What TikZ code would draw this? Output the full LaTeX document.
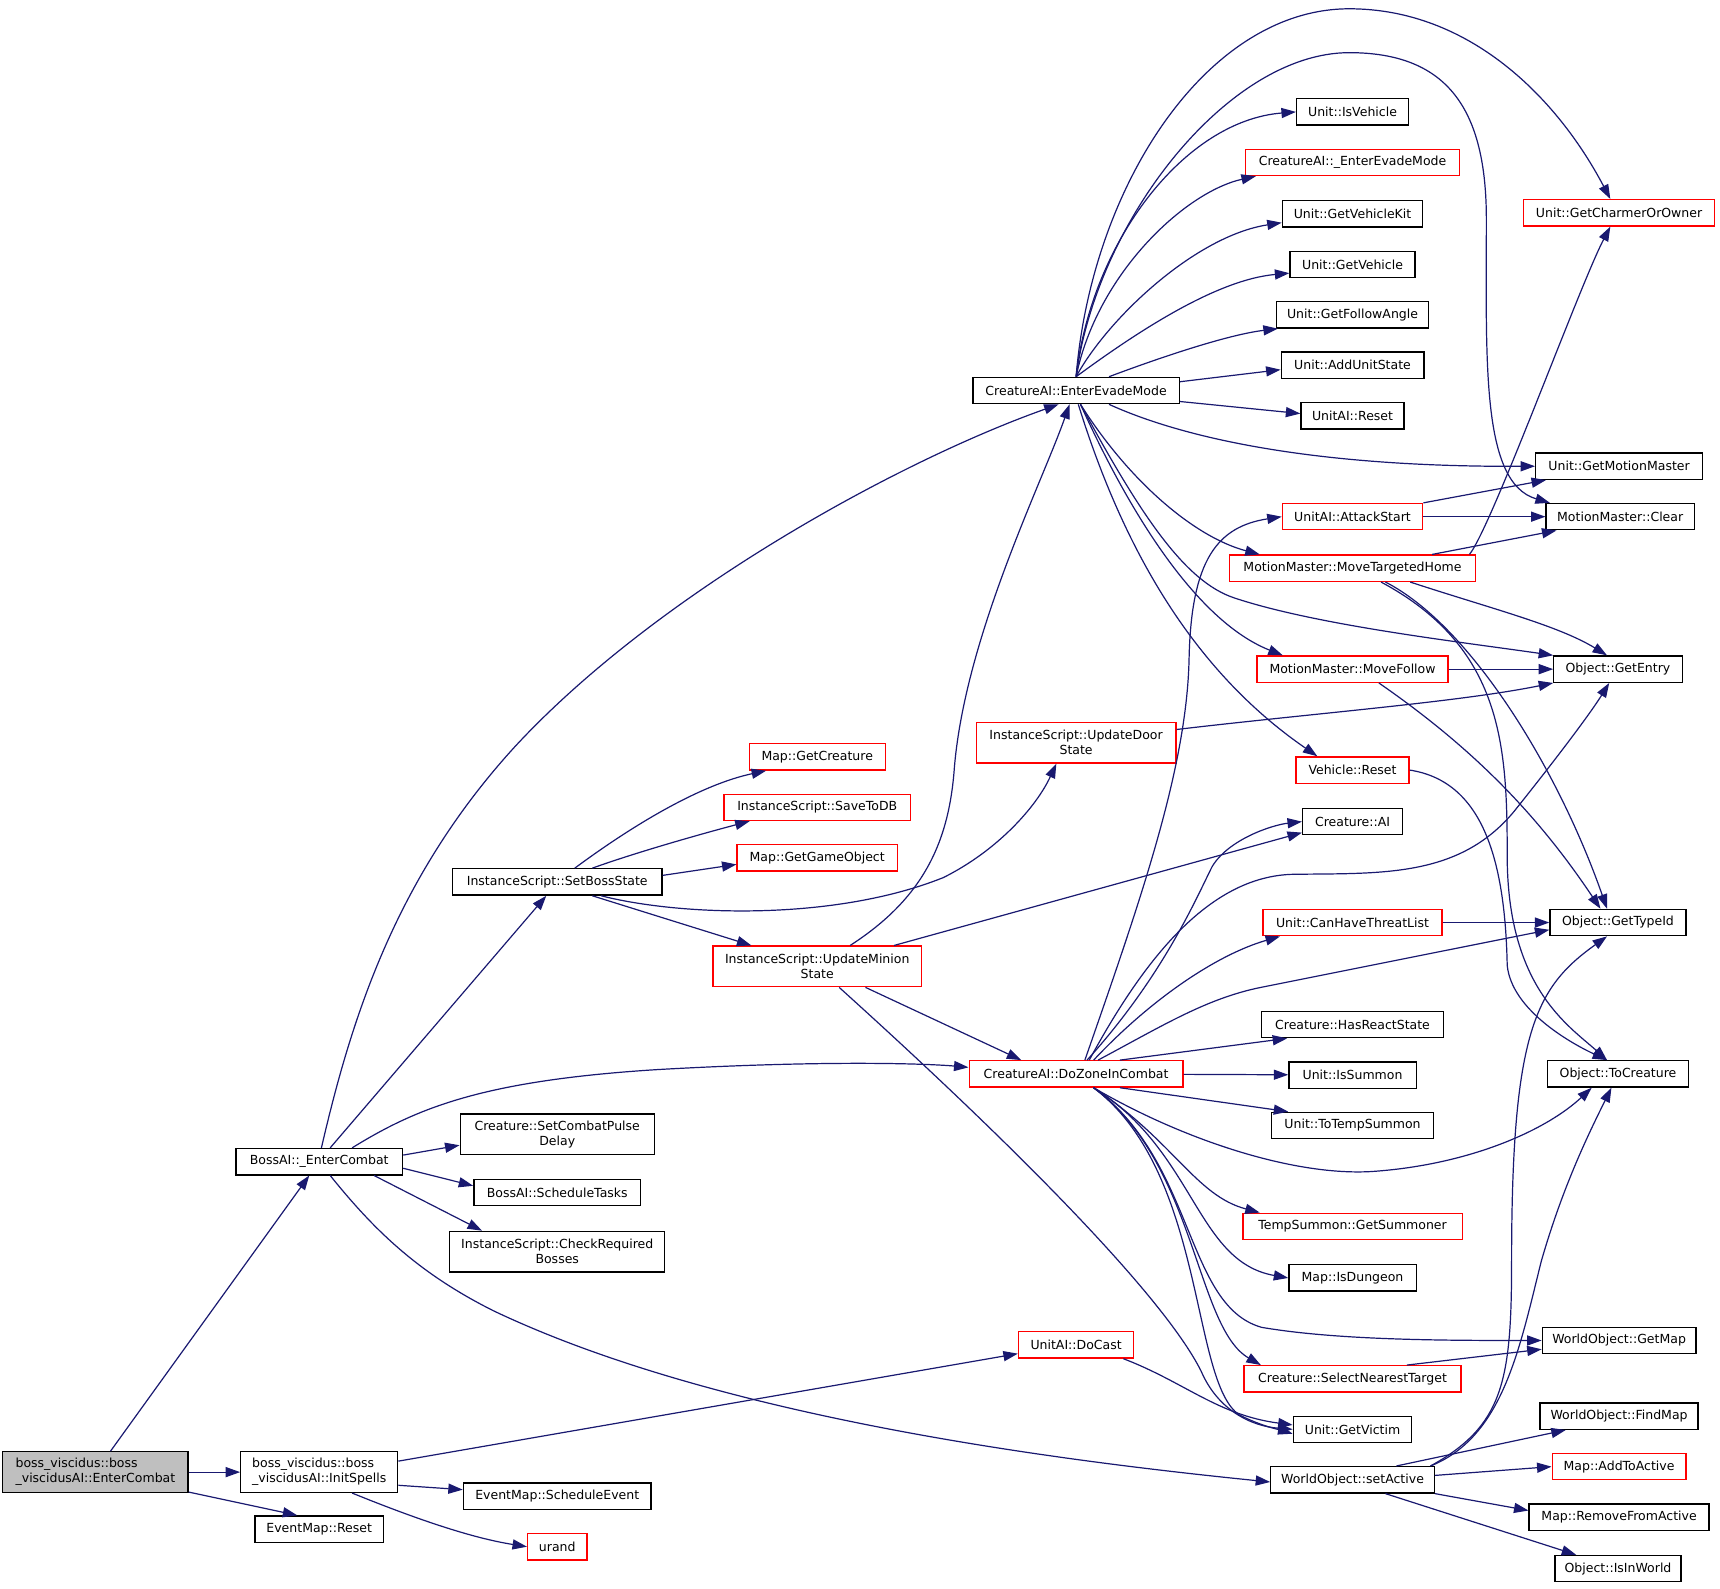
\documentclass[tikz,border=0pt]{standalone}
\usepackage{fontspec}
\setmainfont{DejaVu Sans}
\usetikzlibrary{arrows.meta}
\definecolor{edgec}{HTML}{191970}
\definecolor{rootfill}{HTML}{BFBFBF}
\begin{document}
\begin{tikzpicture}[x=0.5pt,y=-0.5pt,
  nd/.style={draw=black, line width=0.6pt, inner sep=0pt, minimum height=12pt, align=center,
    font=\fontsize{5.7}{6.8}\selectfont},
  rd/.style={nd, draw=red},
  tall/.style={minimum height=18.5pt},
  e/.style={draw=edgec, line width=0.55pt, -{Triangle[length=6.6pt,width=4.6pt]}}]
\useasboundingbox (0,0) rectangle (1568,1448);

% column 0-1
\node[nd,tall,fill=rootfill,minimum width=84.5pt,align=left] (root) at (87,1342) {boss\_viscidus::boss\\\_viscidusAI::EnterCombat};
\node[nd,minimum width=76pt] (bec) at (291,1059) {BossAI::\_EnterCombat};
\node[nd,tall,minimum width=71.5pt,align=left] (ini) at (291,1342) {boss\_viscidus::boss\\\_viscidusAI::InitSpells};
\node[nd,minimum width=58.5pt] (emr) at (291,1394) {EventMap::Reset};
% column 2
\node[nd,minimum width=95.5pt] (sbs) at (508,804) {InstanceScript::SetBossState};
\node[nd,tall,minimum width=88.5pt] (scp) at (508,1034) {Creature::SetCombatPulse\\Delay};
\node[nd,minimum width=76pt] (bst) at (508,1087) {BossAI::ScheduleTasks};
\node[nd,tall,minimum width=98pt] (crb) at (508,1141) {InstanceScript::CheckRequired\\Bosses};
\node[nd,minimum width=85.5pt] (sev) at (508,1364) {EventMap::ScheduleEvent};
\node[rd,minimum width=27pt] (ura) at (508,1410) {urand};
% column 3
\node[rd,minimum width=62pt] (mgc) at (745,690) {Map::GetCreature};
\node[rd,minimum width=85pt] (sdb) at (745,736) {InstanceScript::SaveToDB};
\node[rd,minimum width=73pt] (mgo) at (745,782) {Map::GetGameObject};
\node[rd,tall,minimum width=95pt] (ums) at (745,881) {InstanceScript::UpdateMinion\\State};
% column 4
\node[nd,minimum width=94pt] (eem) at (981,356) {CreatureAI::EnterEvadeMode};
\node[rd,tall,minimum width=91pt] (uds) at (981,677) {InstanceScript::UpdateDoor\\State};
\node[rd,minimum width=97.5pt] (dzc) at (981,979) {CreatureAI::DoZoneInCombat};
\node[rd,minimum width=52.5pt] (dca) at (981,1226) {UnitAI::DoCast};
% column 5
\node[nd,minimum width=51pt] (isv) at (1233,102) {Unit::IsVehicle};
\node[rd,minimum width=97.5pt] (eev) at (1233,148) {CreatureAI::\_EnterEvadeMode};
\node[nd,minimum width=64pt] (gvk) at (1233,195) {Unit::GetVehicleKit};
\node[nd,minimum width=57pt] (gve) at (1233,241) {Unit::GetVehicle};
\node[nd,minimum width=69.5pt] (gfa) at (1233,287) {Unit::GetFollowAngle};
\node[nd,minimum width=65pt] (aus) at (1233,333) {Unit::AddUnitState};
\node[nd,minimum width=47pt] (uar) at (1233,379) {UnitAI::Reset};
\node[rd,minimum width=64pt] (ats) at (1233,471) {UnitAI::AttackStart};
\node[rd,minimum width=112pt] (mth) at (1233,518) {MotionMaster::MoveTargetedHome};
\node[rd,minimum width=87pt] (mfo) at (1233,610) {MotionMaster::MoveFollow};
\node[rd,minimum width=51.5pt] (vre) at (1233,702) {Vehicle::Reset};
\node[nd,minimum width=45.5pt] (cai) at (1233,749) {Creature::AI};
\node[rd,minimum width=81.5pt] (cht) at (1233,841) {Unit::CanHaveThreatList};
\node[nd,minimum width=83pt] (hrs) at (1233,934) {Creature::HasReactState};
\node[nd,minimum width=58pt] (iss) at (1233,980) {Unit::IsSummon};
\node[nd,minimum width=74pt] (tts) at (1233,1026) {Unit::ToTempSummon};
\node[rd,minimum width=100pt] (gsu) at (1233,1118) {TempSummon::GetSummoner};
\node[nd,minimum width=58pt] (idu) at (1233,1165) {Map::IsDungeon};
\node[rd,minimum width=99pt] (snt) at (1233,1257) {Creature::SelectNearestTarget};
\node[nd,minimum width=54pt] (gvi) at (1233,1303) {Unit::GetVictim};
\node[nd,minimum width=74.5pt] (sac) at (1233,1349) {WorldObject::setActive};
% column 6
\node[rd,minimum width=87pt] (gco) at (1476,194) {Unit::GetCharmerOrOwner};
\node[nd,minimum width=76pt] (gmm) at (1476,425) {Unit::GetMotionMaster};
\node[nd,minimum width=67.5pt] (mmc) at (1477,471) {MotionMaster::Clear};
\node[nd,minimum width=58.5pt] (gen) at (1475,610) {Object::GetEntry};
\node[nd,minimum width=62pt] (gti) at (1475,841) {Object::GetTypeId};
\node[nd,minimum width=64.5pt] (tcr) at (1475,979) {Object::ToCreature};
\node[nd,minimum width=70pt] (gma) at (1476,1222) {WorldObject::GetMap};
\node[nd,minimum width=72pt] (fma) at (1476,1291) {WorldObject::FindMap};
\node[rd,minimum width=61pt] (ata) at (1476,1337) {Map::AddToActive};
\node[nd,minimum width=82pt] (rfa) at (1476,1383) {Map::RemoveFromActive};
\node[nd,minimum width=57.5pt] (iiw) at (1475,1430) {Object::IsInWorld};

% root edges
\draw[e] (root) -- (bec);
\draw[e] (root) -- (ini);
\draw[e] (root) -- ([xshift=-10pt]emr.north);
% BossAI::_EnterCombat
\draw[e] ([xshift=1pt]bec.north) .. controls (320,930) and (360,800) .. (470,680) .. controls (600,540) and (820,420) .. ([xshift=-8pt]eem.south);
\draw[e] ([xshift=5pt]bec.north) -- ([xshift=-5pt]sbs.south);
\draw[e] ([xshift=15pt]bec.north) .. controls (380,1010) and (440,985) .. (600,975) .. controls (760,966) and (850,970) .. ([yshift=3pt]dzc.west);
\draw[e] ([yshift=3pt]bec.east) -- ([yshift=-5pt]scp.west);
\draw[e] ([yshift=-3pt]bec.east) -- ([yshift=3pt]bst.west);
\draw[e] ([xshift=25pt]bec.south) -- ([xshift=15pt]crb.north west);
\draw[e] ([xshift=5pt]bec.south) .. controls (340,1120) and (380,1160) .. (450,1195) .. controls (650,1290) and (950,1330) .. ([yshift=-1pt]sac.west);
% InitSpells
\draw[e] ([yshift=5pt]ini.east) -- ([yshift=-4pt]dca.west);
\draw[e] ([yshift=-6pt]ini.east) -- ([yshift=3pt]sev.west);
\draw[e] ([xshift=15pt]ini.south) .. controls (380,1385) and (430,1402) .. (ura.west);
% SetBossState
\draw[e] ([xshift=8pt]sbs.north) .. controls (580,750) and (640,715) .. ([xshift=8pt]mgc.south west);
\draw[e] ([xshift=16pt]sbs.north) .. controls (580,777) and (640,760) .. ([xshift=12pt]sdb.south west);
\draw[e] ([yshift=3pt]sbs.east) -- ([yshift=-3pt]mgo.west);
\draw[e] ([xshift=20pt]sbs.south) .. controls (620,835) and (760,840) .. (860,800) .. controls (910,775) and (945,735) .. ([xshift=-9pt]uds.south);
\draw[e] ([xshift=16pt]sbs.south) -- ([xshift=-30pt]ums.north);
% UpdateMinionState
\draw[e] ([xshift=15pt]ums.north) .. controls (840,820) and (865,770) .. (870,700) .. controls (880,580) and (950,440) .. ([xshift=-3pt]eem.south);
\draw[e] ([xshift=35pt]ums.north) -- ([yshift=-5pt]cai.west);
\draw[e] ([xshift=22pt]ums.south) -- ([xshift=-25pt]dzc.north);
\draw[e] ([xshift=10pt]ums.south) .. controls (920,1040) and (1060,1180) .. (1095,1250) .. controls (1110,1285) and (1140,1300) .. (gvi.west);
% UpdateDoorState
\draw[e] ([yshift=6pt]uds.east) .. controls (1200,650) and (1330,640) .. (gen.south west);
% EnterEvadeMode
\draw[e] (eem.north) .. controls (995,220) and (1080,110) .. (isv.west);
\draw[e] (eem.north) .. controls (1000,250) and (1080,175) .. ([xshift=5pt]eev.south west);
\draw[e] (eem.north) .. controls (1010,290) and (1090,215) .. ([yshift=-4pt]gvk.west);
\draw[e] (eem.north) .. controls (1040,300) and (1110,255) .. ([yshift=-4pt]gve.west);
\draw[e] ([xshift=15pt]eem.north) .. controls (1060,325) and (1120,305) .. ([xshift=1pt]gfa.south west);
\draw[e] ([yshift=4pt]eem.east) -- ([yshift=-2pt]aus.west);
\draw[e] ([yshift=-5pt]eem.east) -- ([yshift=1pt]uar.west);
\draw[e] ([xshift=15pt]eem.south) .. controls (1080,400) and (1200,426) .. (gmm.west);
\draw[e] (eem.north) .. controls (995,170) and (1100,8) .. (1230,8) .. controls (1340,8) and (1420,90) .. ([xshift=-4pt]gco.north);
\draw[e] (eem.north) .. controls (1000,200) and (1120,48) .. (1230,48) .. controls (1320,48) and (1355,100) .. (1355,200) .. controls (1355,330) and (1350,440) .. ([xshift=2pt]mmc.north west);
\draw[e] ([xshift=2pt]eem.south) .. controls (1040,470) and (1080,530) .. (1125,545) .. controls (1200,570) and (1330,585) .. (gen.north west);
\draw[e] ([xshift=2pt]eem.south) .. controls (1030,440) and (1090,490) .. ([xshift=14pt]mth.north west);
\draw[e] ([xshift=2pt]eem.south) .. controls (1040,490) and (1100,570) .. ([xshift=12pt]mfo.north west);
\draw[e] ([xshift=1pt]eem.south) .. controls (1030,520) and (1100,620) .. ([xshift=10pt]vre.north west);
% AttackStart, MoveTargetedHome, MoveFollow, Vehicle::Reset
\draw[e] (ats.north east) -- ([xshift=5pt]gmm.south west);
\draw[e] (ats) -- (mmc);
\draw[e] ([xshift=-20pt]mth.north east) -- ([xshift=5pt]mmc.south west);
\draw[e] ([xshift=-3pt]mth.north east) .. controls (1360,480) and (1440,260) .. ([xshift=-4pt]gco.south);
\draw[e] ([xshift=-30pt]mth.south east) .. controls (1360,555) and (1420,570) .. ([xshift=-5pt]gen.north);
\draw[e] ([xshift=15pt]mth.south) .. controls (1340,570) and (1420,700) .. ([xshift=-5pt]gti.north);
\draw[e] ([xshift=13pt]mth.south) .. controls (1370,590) and (1374,680) .. (1374,780) .. controls (1374,900) and (1430,935) .. ([xshift=-5pt]tcr.north);
\draw[e] (mfo) -- (gen);
\draw[e] ([xshift=12pt]mfo.south) .. controls (1340,680) and (1400,740) .. ([xshift=-8pt]gti.north);
\draw[e] (vre.east) .. controls (1350,712) and (1372,780) .. (1374,880) .. controls (1378,920) and (1430,950) .. ([xshift=-5pt]tcr.north);
% DoZoneInCombat
\draw[e] ([xshift=4pt]dzc.north) .. controls (1040,820) and (1082,700) .. (1084,600) .. controls (1086,510) and (1110,480) .. (ats.west);
\draw[e] ([xshift=5pt]dzc.north) .. controls (1060,890) and (1090,820) .. (1105,790) .. controls (1120,765) and (1160,752) .. (cai.west);
\draw[e] ([xshift=6pt]dzc.north) .. controls (1040,880) and (1100,798) .. (1180,797) .. controls (1260,796) and (1330,800) .. (1380,740) .. controls (1420,690) and (1450,650) .. ([xshift=-4pt]gen.south);
\draw[e] ([xshift=8pt]dzc.north) .. controls (1050,910) and (1110,870) .. ([xshift=8pt]cht.south west);
\draw[e] ([xshift=10pt]dzc.north) .. controls (1060,935) and (1100,910) .. (1150,900) .. controls (1250,880) and (1350,860) .. ([yshift=3pt]gti.south west);
\draw[e] ([xshift=20pt]dzc.north) -- ([xshift=12pt]hrs.south west);
\draw[e] (dzc) -- (iss);
\draw[e] ([xshift=20pt]dzc.south) -- ([xshift=8pt]tts.north west);
\draw[e] ([xshift=8pt]dzc.south) .. controls (1080,1040) and (1180,1072) .. (1250,1068) .. controls (1340,1062) and (1410,1030) .. ([xshift=-12pt]tcr.south);
\draw[e] ([xshift=8pt]dzc.south) .. controls (1070,1040) and (1090,1090) .. ([xshift=8pt]gsu.north west);
\draw[e] ([xshift=8pt]dzc.south) .. controls (1090,1050) and (1090,1150) .. (idu.west);
\draw[e] ([xshift=8pt]dzc.south) .. controls (1090,1060) and (1080,1190) .. (1150,1210) .. controls (1220,1222) and (1320,1222) .. (gma.west);
\draw[e] ([xshift=8pt]dzc.south) .. controls (1090,1060) and (1090,1210) .. ([xshift=8pt]snt.north west);
\draw[e] ([xshift=8pt]dzc.south) .. controls (1100,1070) and (1085,1260) .. (1130,1290) .. controls (1150,1300) and (1165,1303) .. ([yshift=-2pt]gvi.west);
\draw[e] (cht) -- (gti);
\draw[e] ([xshift=-25pt]snt.north east) -- ([yshift=-4pt]gma.west);
\draw[e] ([xshift=-5pt]dca.south east) .. controls (1080,1260) and (1110,1290) .. ([yshift=2pt]gvi.west);
% setActive
\draw[e] ([xshift=-2pt]sac.north east) .. controls (1370,1300) and (1378,1260) .. (1378,1150) .. controls (1378,940) and (1400,900) .. ([xshift=-5pt]gti.south);
\draw[e] ([xshift=-2pt]sac.north east) .. controls (1370,1310) and (1385,1230) .. (1405,1150) .. controls (1425,1080) and (1450,1030) .. ([xshift=-3pt]tcr.south);
\draw[e] ([xshift=20pt]sac.north) -- ([xshift=12pt]fma.south west);
\draw[e] ([yshift=2pt]sac.east) -- (ata.west);
\draw[e] (sac.south east) -- ([yshift=3pt]rfa.west);
\draw[e] ([xshift=15pt]sac.south) -- ([xshift=10pt]iiw.north west);
\end{tikzpicture}
\end{document}
